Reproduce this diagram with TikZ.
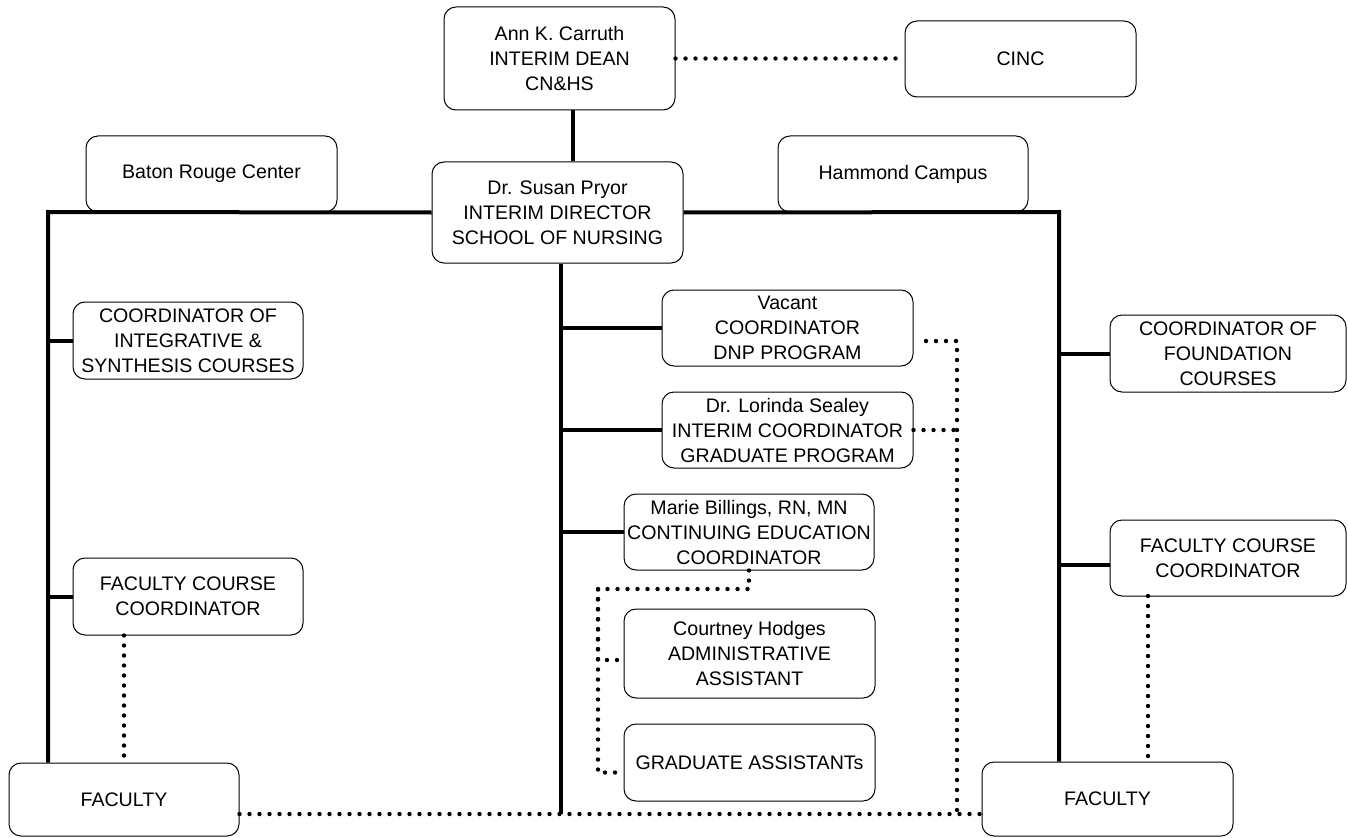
\documentclass[tikz,border=0pt]{standalone}
\usepackage{fontspec}
\setmainfont{Liberation Sans}
\usepackage{tikz}

\begin{document}
\begin{tikzpicture}[x=0.75pt,y=0.75pt,yscale=-1,xscale=1,
    box/.style={draw,rounded corners=9pt,line width=0.75pt,inner sep=0pt,align=center,
        font=\fontsize{14.7}{18.75}\selectfont},
    solidln/.style={line width=3pt},
    dotln/.style={line width=3.3pt,line cap=round,dash pattern=on 0pt off 7.5pt}]
    \useasboundingbox (0,0) rectangle (1348,838);

    % Rounded Rect
    \node[box,minimum width=173.25pt,minimum height=77.25pt] (dean) at (559.5,58.5) {Ann K. Carruth\\INTERIM DEAN\\CN\&HS};
    % Rounded Rect
    \node[box,minimum width=173.25pt,minimum height=57pt] (cinc) at (1020.5,59) {CINC};
    % Rounded Rect
    \node[box,minimum width=188.25pt,minimum height=57pt] (baton) at (211.5,174) {Baton Rouge Center};
    % Rounded Rect
    \node[box,minimum width=187.5pt,minimum height=57pt] (hammond) at (903,174) {Hammond Campus};
    % Rounded Rect
    \node[box,minimum width=188.25pt,minimum height=75.75pt] (dir) at (557.5,212.5) {Dr. Susan Pryor\\INTERIM DIRECTOR\\SCHOOL OF NURSING};
    % Rounded Rect
    \node[box,minimum width=172.5pt,minimum height=57.75pt] (integ) at (188,340.5) {COORDINATOR OF\\INTEGRATIVE \&\\SYNTHESIS COURSES};
    % Rounded Rect
    \node[box,minimum width=172.5pt,minimum height=57.75pt] (lfcc) at (188,596.5) {FACULTY COURSE\\COORDINATOR};
    % Rounded Rect
    \node[box,minimum width=172.5pt,minimum height=54.75pt] (lfac) at (124,799.5) {FACULTY};
    % Rounded Rect
    \node[box,minimum width=188.25pt,minimum height=57pt] (dnp) at (787.5,328) {Vacant\\COORDINATOR\\DNP PROGRAM};
    % Rounded Rect
    \node[box,minimum width=188.25pt,minimum height=57pt] (grad) at (787.5,430) {Dr. Lorinda Sealey\\INTERIM COORDINATOR\\GRADUATE PROGRAM};
    % Rounded Rect
    \node[box,minimum width=187.5pt,minimum height=57pt] (ce) at (749,532) {Marie Billings, RN, MN\\CONTINUING EDUCATION\\COORDINATOR};
    % Rounded Rect
    \node[box,minimum width=188.25pt,minimum height=66.75pt] (admin) at (749.5,653.5) {Courtney Hodges\\ADMINISTRATIVE\\ASSISTANT};
    % Rounded Rect
    \node[box,minimum width=188.25pt,minimum height=57.75pt] (ga) at (749.5,762.5) {GRADUATE ASSISTANTs};
    % Rounded Rect
    \node[box,minimum width=177pt,minimum height=57.75pt] (found) at (1228,353.5) {COORDINATOR OF\\FOUNDATION\\COURSES};
    % Rounded Rect
    \node[box,minimum width=177pt,minimum height=57pt] (rfcc) at (1228,558) {FACULTY COURSE\\COORDINATOR};
    % Rounded Rect
    \node[box,minimum width=188.25pt,minimum height=55.5pt] (rfac) at (1107.5,799) {FACULTY};

    % Corner points
    \coordinate (dd) at (573,110);
    \coordinate (ltop) at (48,212);
    \coordinate (rtop) at (1059,212);
    \coordinate (tbot) at (561,814);
    \coordinate (bdot) at (600,814);
    \coordinate (rd1) at (926,341);
    \coordinate (rd2) at (957,341);
    \coordinate (mk) at (598,589);
    \coordinate (rfd) at (1148,596);

    %Straight Lines
    \draw[solidln] (dd) -- (dd |- dir.north);
    %Straight Lines
    \draw[solidln] (dir.west) -- (ltop) -- (ltop |- lfac.north);
    \draw[solidln] (dir.east) -- (rtop) -- (rtop |- rfac.north);
    %Straight Lines
    \draw[solidln] (integ.west -| ltop) -- (integ.west);
    \draw[solidln] (lfcc.west -| ltop) -- (lfcc.west);
    \draw[solidln] (found.west -| rtop) -- (found.west);
    \draw[solidln] ([yshift=5.25pt]rfcc.west -| rtop) -- ([yshift=5.25pt]rfcc.west);
    %Straight Lines
    \draw[solidln] (tbot |- dir.south) -- (tbot);
    \draw[solidln] (dnp.west -| tbot) -- (dnp.west);
    \draw[solidln] (grad.west -| tbot) -- (grad.west);
    \draw[solidln] (ce.west -| tbot) -- (ce.west);

    %Dotted Lines
    \draw[dotln] (dean.east) -- (dean.east -| cinc.west);
    \draw[dotln] (lfac.east |- bdot) -- (rfac.west |- bdot);
    \draw[dotln] (rd1) -- (rd2) -- (rd2 |- bdot);
    \draw[dotln] (grad.east) -- (grad.east -| rd2);
    \draw[dotln] (ce.south) |- (mk) |- ([yshift=7.5pt]ga.west);
    \draw[dotln] (mk) |- ([yshift=4.9pt]admin.west);
    \draw[dotln] (lfac.north |- lfcc.south) -- (lfac.north);
    \draw[dotln] (rfd) -- (rfd |- rfac.north);

\end{tikzpicture}
\end{document}
